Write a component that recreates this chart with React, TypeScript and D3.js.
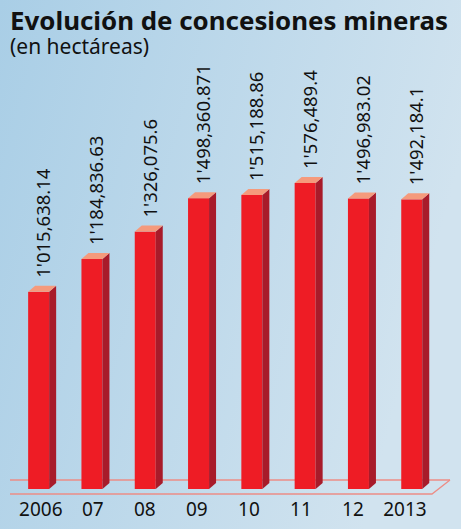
import React from "react";
import * as d3 from "d3";

const years = ["2006", "2007", "2008", "2009", "2010", "2011", "2012", "2013"];
const yearLabels = ["2006", "07", "08", "09", "10", "11", "12", "2013"];
const values = [1015638.14, 1184836.63, 1326075.6, 1498360.871, 1515188.86, 1576489.4, 1496983.02, 1492184.1];
const valueLabels = ["1'015,638.14", "1'184,836.63", "1'326,075.6", "1'498,360.871", "1'515,188.86", "1'576,489.4", "1'496,983.02", "1'492,184.1"];

const W = 461;
const H = 529;
const BASE = 489;
const BAR_W = 21;
const DX = 7;
const DY = 6;
const FONT = "'Noto Sans', 'Open Sans', sans-serif";

export default function App() {
  const x = d3.scaleBand<string>().domain(years).range([12, 438.4]).padding(0);
  const xt = d3.scalePoint<string>().domain(years).range([40.8, 405]);
  const y = d3.scaleLinear().domain([0, 1576489.4]).range([BASE, 183]);
  const off = (x.bandwidth() - BAR_W) / 2;

  return (
    <svg width={W} height={H} style={{ position: "absolute", left: 0, top: 0, display: "block" }}>
      <defs>
        <linearGradient id="bg" x1="0" y1="0" x2="1" y2="0.3">
          <stop offset="0" stopColor="#a9cee6" />
          <stop offset="1" stopColor="#d1e3ef" />
        </linearGradient>
      </defs>
      <rect x={0} y={0} width={W} height={H} fill="url(#bg)" />
      <text x={10} y={30} fontFamily={FONT} fontWeight="bold" fontSize={25} fill="#111" textLength={438} lengthAdjust="spacingAndGlyphs">
        Evolución de concesiones mineras
      </text>
      <text x={10} y={54} fontFamily={FONT} fontSize={21} fill="#111">
        (en hectáreas)
      </text>
      {/* floor */}
      <line x1={10} y1={480} x2={450} y2={480} stroke="#ec8d86" strokeWidth={1.3} />
      <polyline points={`10,494 432,494 450,480`} fill="none" stroke="#ec8d86" strokeWidth={1.3} />
      {years.map((yr, i) => {
        const x0 = (x(yr) as number) + off;
        const yt = y(values[i]);
        const x1 = x0 + BAR_W;
        return (
          <g key={yr}>
            <rect x={x0} y={yt} width={BAR_W} height={BASE - yt} fill="#ee1c25" />
            <polygon points={`${x1},${yt} ${x1 + DX},${yt - DY} ${x1 + DX},${BASE - DY} ${x1},${BASE}`} fill="#a81b2a" />
            <polygon points={`${x0},${yt} ${x0 + DX},${yt - DY} ${x1 + DX},${yt - DY} ${x1},${yt}`} fill="#f59a7c" />
            <text
              transform={`translate(${x0 + (BAR_W + DX) / 2 + 0.5},${yt - DY - 8}) rotate(-90)`}
              dominantBaseline="central"
              fontFamily={FONT}
              fontSize={18.5}
              fill="#111"
            >
              {valueLabels[i]}
            </text>
          </g>
        );
      })}
      {years.map((yr, i) => (
        <text key={"t" + yr} x={xt(yr)} y={516} textAnchor="middle" fontFamily={FONT} fontSize={19} fill="#111">
          {yearLabels[i]}
        </text>
      ))}
    </svg>
  );
}
